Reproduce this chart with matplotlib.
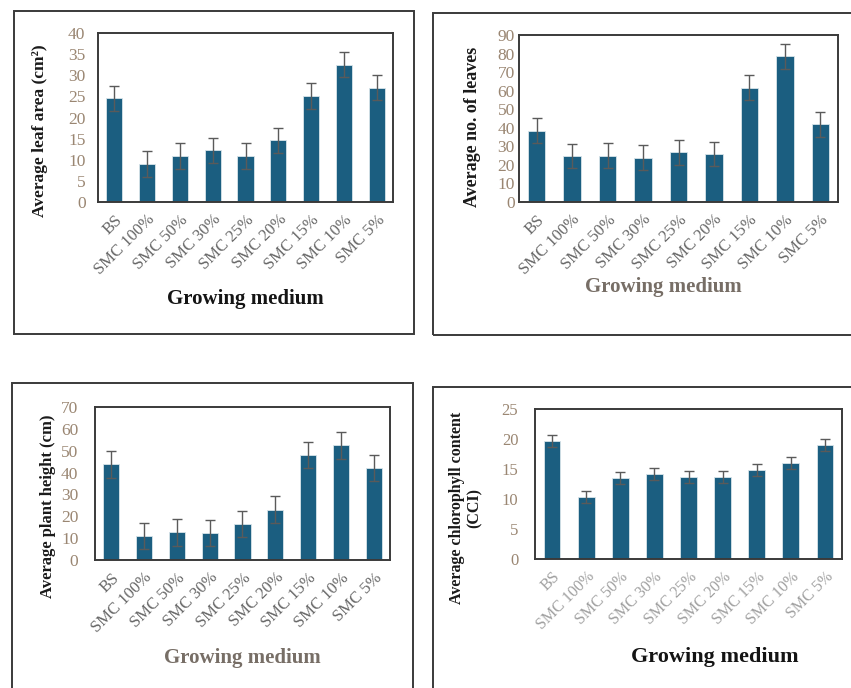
import matplotlib.pyplot as plt
from matplotlib.patches import Rectangle

plt.rcParams['font.family'] = ['Liberation Serif', 'DejaVu Serif']

media = ["BS", "SMC 100%", "SMC 50%", "SMC 30%", "SMC 25%",
         "SMC 20%", "SMC 15%", "SMC 10%", "SMC 5%"]

leaf_area = [24.5, 9.0, 10.9, 12.2, 10.9, 14.6, 25.1, 32.5, 27.1]
leaf_area_err = [3.0, 3.0, 3.0, 3.0, 3.0, 3.0, 3.0, 3.0, 3.0]

leaf_count = [38.5, 24.9, 25.0, 23.8, 26.7, 25.8, 61.6, 78.5, 41.9]
leaf_count_err = [6.8, 6.6, 6.6, 6.7, 6.8, 6.6, 6.7, 6.8, 6.7]

plant_height = [43.7, 10.8, 12.6, 12.3, 16.4, 23.1, 47.9, 52.4, 42.0]
plant_height_err = [6.0, 5.9, 6.0, 5.9, 5.9, 6.0, 6.0, 6.0, 5.9]

chlorophyll = [19.7, 10.4, 13.5, 14.1, 13.6, 13.6, 14.8, 16.0, 19.0]
chlorophyll_err = [1.0, 1.0, 1.0, 1.0, 1.0, 1.0, 1.0, 1.0, 1.0]

BAR = "#1b5e80"
NUM = "#9a8672"

fig = plt.figure(figsize=(8.51, 6.88), dpi=100)

# outer frames around each panel (pixel boxes, top-left origin)
W, H = 851, 688
for x0, y0, x1, y1 in [(14, 11, 414, 334), (433, 13, 860, 335),
                       (12, 383, 413, 700), (433, 387, 860, 700)]:
    fig.add_artist(Rectangle((x0 / W, 1 - y1 / H), (x1 - x0) / W, (y1 - y0) / H,
                             transform=fig.transFigure, fill=False,
                             edgecolor="#3a3a3a", linewidth=1.4, clip_on=False))


def panel(rect, vals, errs, ymax, step, ylabel, ylab_pos, ylab_size,
          xlab_pos, xlab_size, xlab_color, xtick_color, tick_size=12.5,
          xtick_size=12, ypad=5):
    ax = fig.add_axes([rect[0] / W, 1 - rect[3] / H,
                       (rect[2] - rect[0]) / W, (rect[3] - rect[1]) / H])
    x = range(len(media))
    ax.bar(x, vals, width=0.49, color=BAR, edgecolor="#d8e4ea", linewidth=0.6,
           yerr=errs, capsize=3.5,
           error_kw=dict(ecolor="#5a5a5a", elinewidth=1.0, capthick=1.0))
    ax.set_xlim(-0.5, len(media) - 0.5)
    ax.set_ylim(0, ymax)
    ax.set_yticks(range(0, ymax + 1, step))
    ax.set_xticks(list(x))
    ax.set_xticklabels(media, rotation=45, ha="right", rotation_mode="anchor",
                       fontsize=xtick_size, color=xtick_color)
    ax.tick_params(axis="both", length=0)
    ax.tick_params(axis="y", labelcolor=NUM, labelsize=tick_size, pad=ypad)
    ax.tick_params(axis="x", pad=7)
    for s in ax.spines.values():
        s.set_color("#3a3a3a")
        s.set_linewidth(1.4)
    fig.text(ylab_pos[0] / W, 1 - ylab_pos[1] / H, ylabel, rotation=90,
             ha="center", va="center", fontsize=ylab_size, fontweight="bold",
             color="#1a1a1a", linespacing=1.1)
    fig.text(xlab_pos[0] / W, 1 - xlab_pos[1] / H, "Growing medium",
             ha="center", va="center", fontsize=xlab_size, fontweight="bold",
             color=xlab_color)
    return ax


panel((98, 33, 393, 202), leaf_area, leaf_area_err, 40, 5,
      "Average leaf area (cm²)", (40, 131), 12.5,
      (245, 299), 15, "#141414", "#666666", ypad=9)

panel((519, 35, 838, 202), leaf_count, leaf_count_err, 90, 10,
      "Average no. of leaves", (472, 127), 13,
      (663, 287), 15, "#776e66", "#666666", ypad=3)

panel((95, 407, 390, 560), plant_height, plant_height_err, 70, 10,
      "Average plant height (cm)", (48, 506), 12,
      (242, 658), 15, "#776e66", "#666666", ypad=12)

panel((535, 409, 842, 559), chlorophyll, chlorophyll_err, 25, 5,
      "Average chlorophyll content\n(CCI)", (466, 508), 11.5,
      (715, 657), 16, "#141414", "#a0a0a0", tick_size=12, xtick_size=11.5,
      ypad=12)

fig.savefig("out.png", dpi=100)
